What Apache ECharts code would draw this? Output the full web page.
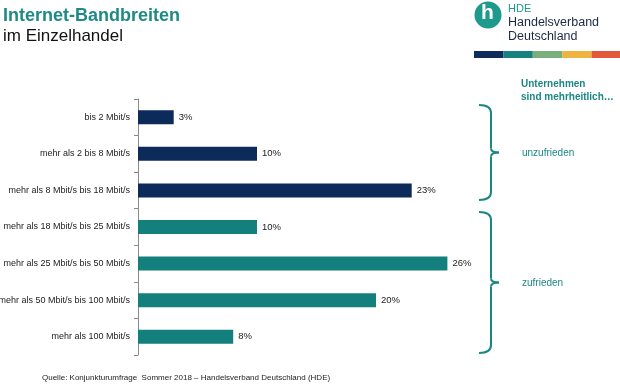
<!DOCTYPE html>
<html><head><meta charset="utf-8">
<script src="https://cdn.jsdelivr.net/npm/echarts@6/dist/echarts.min.js"></script>
<style>html,body{margin:0;padding:0;background:#fff}#c{width:620px;height:390px}</style>
</head><body><div id="c"></div>
<script>
const categories = ["bis 2 Mbit/s","mehr als 2 bis 8 Mbit/s","mehr als 8 Mbit/s bis 18 Mbit/s","mehr als 18 Mbit/s bis 25 Mbit/s","mehr als 25 Mbit/s bis 50 Mbit/s","mehr als 50 Mbit/s bis 100 Mbit/s","mehr als 100 Mbit/s"];
const values = [3,10,23,10,26,20,8];
const groups = ["unzufrieden","unzufrieden","unzufrieden","zufrieden","zufrieden","zufrieden","zufrieden"];
const groupColors = {unzufrieden:"#0c2b5b", zufrieden:"#13807e"};
const teal = "#1b8784";

const chart = echarts.init(document.getElementById('c'), null, {renderer:'canvas'});
function brace(x, y1, y2) {
  const ym = (y1+y2)/2;
  const st = {fill:null, stroke:teal, lineWidth:2};
  const vx = x+12;
  return [
    {type:'bezierCurve', shape:{x1:x, y1:y1, x2:vx, y2:y1+8, cpx1:vx, cpy1:y1}, style:st},
    {type:'line', shape:{x1:vx, y1:y1+8, x2:vx, y2:ym-4}, style:st},
    {type:'bezierCurve', shape:{x1:vx, y1:ym-4, x2:vx+8, y2:ym, cpx1:vx, cpy1:ym}, style:st},
    {type:'bezierCurve', shape:{x1:vx+8, y1:ym, x2:vx, y2:ym+4, cpx1:vx, cpy1:ym}, style:st},
    {type:'line', shape:{x1:vx, y1:ym+4, x2:vx, y2:y2-8}, style:st},
    {type:'bezierCurve', shape:{x1:vx, y1:y2-8, x2:x, y2:y2, cpx1:vx, cpy1:y2}, style:st}
  ];
}
const barColors = ["#0d2c5c","#16817f","#7aae7a","#efb43f","#e2583a"];
const graphic = [
  {type:'text', x:3, y:7, style:{text:'Internet-Bandbreiten', fill:'#1e8a86', font:'bold 18px "Liberation Sans", Arial, sans-serif'}},
  {type:'text', x:3, y:28, style:{text:'im Einzelhandel', fill:'#111', font:'17px "Liberation Sans", Arial, sans-serif'}},
  {type:'circle', shape:{cx:488, cy:15, r:13.5}, style:{fill:'#1d9a8c'}},
  {type:'text', x:481, y:3, style:{text:'h', fill:'#fff', font:'bold 21px "Liberation Sans", Arial, sans-serif'}},
  {type:'text', x:508, y:3, style:{text:'HDE', fill:'#1d9a8c', font:'11px "Liberation Sans", Arial, sans-serif'}},
  {type:'text', x:508, y:16, style:{text:'Handelsverband', fill:'#1a2a44', font:'12.5px "Liberation Sans", Arial, sans-serif'}},
  {type:'text', x:508, y:30, style:{text:'Deutschland', fill:'#1a2a44', font:'12.5px "Liberation Sans", Arial, sans-serif'}},
  {type:'text', x:521, y:78, style:{text:'Unternehmen\nsind mehrheitlich…', fill:teal, font:'bold 10px "Liberation Sans", Arial, sans-serif', lineHeight:13}},
  {type:'text', x:522, y:148, style:{text:'unzufrieden', fill:teal, font:'10px "Liberation Sans", Arial, sans-serif'}},
  {type:'text', x:522, y:278, style:{text:'zufrieden', fill:teal, font:'10px "Liberation Sans", Arial, sans-serif'}},
  {type:'text', x:42, y:374, style:{text:'Quelle: Konjunkturumfrage  Sommer 2018 – Handelsverband Deutschland (HDE)', fill:'#222', font:'8px "Liberation Sans", Arial, sans-serif'}}
];
barColors.forEach((c,i)=>graphic.push({type:'rect', shape:{x:474+i*29.4, y:51, width:29.4, height:7}, style:{fill:c}}));
graphic.push(...brace(479,105,200), ...brace(479,212,353));

chart.setOption({
  animation:false,
  grid:{left:138, top:99, height:256, width:357, containLabel:false, outerBoundsMode:'none'},
  xAxis:{type:'value', min:0, max:30, show:false},
  yAxis:{type:'category', data:categories, inverse:true,
    axisLine:{lineStyle:{color:'#8a8a8a'}},
    axisTick:{show:true, length:4, lineStyle:{color:'#8a8a8a'}},
    axisLabel:{color:'#222', fontSize:9, fontFamily:'"Liberation Sans", Arial, sans-serif', margin:8}},
  series:[{type:'bar', barWidth:14,
    data:values.map((v,i)=>({value:v, itemStyle:{color:groupColors[groups[i]]}})),
    label:{show:true, position:'right', formatter:'{c}%', color:'#222', fontSize:9.5, distance:5, fontFamily:'"Liberation Sans", Arial, sans-serif'}}],
  graphic:graphic
});
</script></body></html>
